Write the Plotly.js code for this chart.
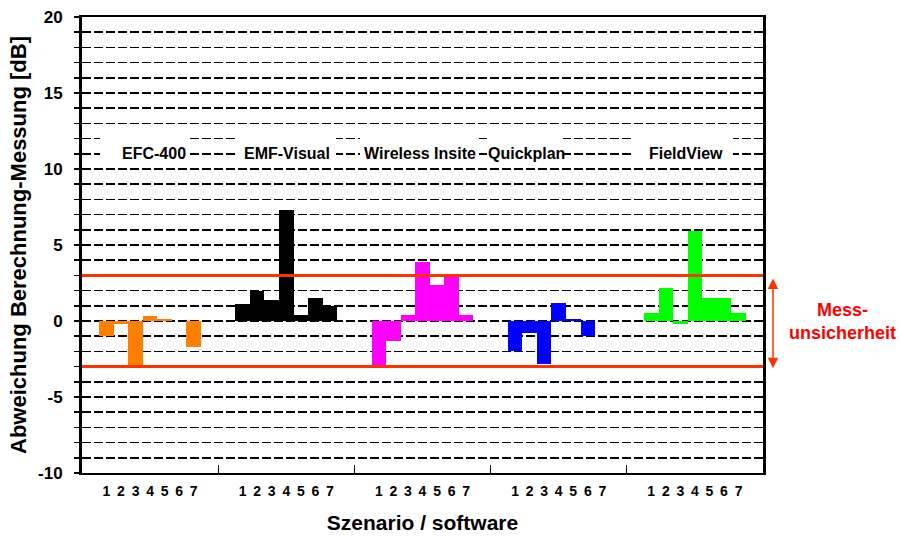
<!DOCTYPE html>
<html>
<head>
<meta charset="utf-8">
<script src="https://cdn.plot.ly/plotly-3.0.1.min.js"></script>
<style>html,body{margin:0;padding:0;background:#fff;}</style>
</head>
<body>
<div id="chart" style="width:900px;height:538px;"></div>
<script>
// ---- data ----
const groups = ['EFC-400', 'EMF-Visual', 'Wireless Insite', 'Quickplan', 'FieldView'];
const scenarios = ['1', '2', '3', '4', '5', '6', '7'];
const efc400 = [-1.0, -0.2, -3.0, 0.3, 0.1, 0.0, -1.7];
const emfVisual = [1.1, 2.0, 1.4, 7.3, 0.4, 1.5, 1.0];
const wirelessInsite = [-2.9, -1.3, 0.4, 3.9, 2.4, 2.9, 0.4];
const quickplan = [-2.0, -0.8, -2.8, 1.2, 0.1, -1.0, 0.0];
const fieldView = [0.5, 2.2, -0.2, 5.9, 1.5, 1.5, 0.5];
const uncertainty = 3;   // ± dB
const yTickVals = [-10, -5, 0, 5, 10, 15, 20];
const yTickText = ['-10', '-5', '0', '5', '10', '15', '20'];
const groupColors = ['#ff8000', '#000000', '#ff00ff', '#0000ff', '#00ff00'];

// ---- layout helpers ----
const seriesValues = [efc400, emfVisual, wirelessInsite, quickplan, fieldView];
const G = 9.36;                        // group width in bar units
const FONT = 'Liberation Sans, Arial, Helvetica, sans-serif';
const pos = (g, s) => g * G + G / 2 + (s - 3);

const traces = seriesValues.map((vals, g) => ({
  type: 'bar',
  x: scenarios.map((_, s) => pos(g, s)),
  y: vals,
  width: 1,
  marker: {color: groupColors[g], line: {width: 0}},
  name: groups[g],
  hoverinfo: 'y',
  showlegend: false,
  xaxis: 'x', yaxis: 'y'
}));

// dummy trace for the secondary x axis (group boundary ticks)
traces.push({type: 'scatter', x: [0], y: [null], xaxis: 'x2', yaxis: 'y', showlegend: false, hoverinfo: 'skip'});

const tickvals = [], ticktext = [];
groups.forEach((_, g) => scenarios.forEach((lab, s) => { tickvals.push(pos(g, s)); ticktext.push(lab); }));
const boundaries = [1, 2, 3, 4].map(k => k * G);

const gridStyle = {gridcolor: '#000', gridwidth: 1.6, griddash: '9px,3px'};

// label boxes (white background hiding gridlines)
const labelX = [154, 287, 420, 526, 686];                 // px centres of labels
const boxes = [[100, 190], [236, 336], [360, 479], [488, 563], [632, 733]];
const L = 82, R = 763;
const px2paper = p => (p - L) / (R - L);

const shapes = [];
boxes.forEach(b => shapes.push({
  type: 'rect', xref: 'paper', yref: 'y', x0: px2paper(b[0]), x1: px2paper(b[1]),
  y0: 10.55, y1: 12.45, fillcolor: '#fff', line: {width: 0}, layer: 'above'
}));
[uncertainty, -uncertainty].forEach(v => shapes.push({
  type: 'line', xref: 'paper', yref: 'y', x0: 0, x1: 1, y0: v, y1: v,
  line: {color: '#ff3300', width: 3}, layer: 'above'
}));

const annotations = groups.map((name, g) => ({
  xref: 'paper', yref: 'y', x: px2paper(labelX[g]), y: 11,
  text: name, showarrow: false,
  font: {family: FONT, size: 16, color: '#000', weight: 700},
  xanchor: 'center', yanchor: 'middle'
}));
annotations.push({
  xref: 'paper', yref: 'y', x: px2paper(773), y: uncertainty - 0.2,
  axref: 'pixel', ayref: 'y', ax: 0, ay: -uncertainty - 0.2,
  text: '', showarrow: true, arrowside: 'end+start', arrowhead: 2,
  arrowsize: 1.4, arrowwidth: 1.5, arrowcolor: '#ff3300'
});
annotations.push({
  xref: 'paper', yref: 'y', x: px2paper(842), y: 0,
  text: 'Mess-<br>unsicherheit', showarrow: false,
  font: {family: FONT, size: 18, color: '#ff0000', weight: 700},
  xanchor: 'center', yanchor: 'middle', align: 'center'
});

const layout = {
  width: 900, height: 538,
  margin: {l: 82, r: 137, t: 17, b: 65},
  paper_bgcolor: '#fff', plot_bgcolor: '#fff',
  bargap: 0, barmode: 'overlay',
  showlegend: false,
  font: {family: FONT, color: '#000'},
  xaxis: {
    range: [0, 5 * G], tickmode: 'array', tickvals: tickvals, ticktext: ticktext,
    ticks: '', showgrid: false, zeroline: false,
    showline: true, linecolor: '#000', linewidth: 2, mirror: true,
    tickfont: {family: FONT, size: 14, weight: 700},
    ticklabelstandoff: 4,
    title: {text: 'Szenario / software', font: {family: FONT, size: 21, weight: 700}, standoff: 18}
  },
  xaxis2: {
    overlaying: 'x', anchor: 'y', side: 'bottom', range: [0, 5 * G],
    tickmode: 'array', tickvals: boundaries, ticks: 'inside', ticklen: 8, tickwidth: 1.2, tickcolor: '#000',
    showticklabels: false, showgrid: false, zeroline: false, showline: false
  },
  yaxis: Object.assign({
    range: [-10, 20], tickmode: 'array', tickvals: yTickVals, ticktext: yTickText,
    ticks: 'outside', ticklen: 5, tickwidth: 1.5, tickcolor: '#000',
    showgrid: true, zeroline: false,
    showline: true, linecolor: '#000', linewidth: 3, mirror: true,
    tickfont: {family: FONT, size: 17, weight: 700},
    ticklabelstandoff: 8,
    minor: Object.assign({dtick: 1, ticks: 'outside', ticklen: 5, tickwidth: 1.5, tickcolor: '#000', showgrid: true}, gridStyle),
    title: {text: 'Abweichung Berechnung-Messung [dB]', font: {family: FONT, size: 22, weight: 700}, standoff: 6}
  }, gridStyle),
  shapes: shapes,
  annotations: annotations
};

Plotly.newPlot('chart', traces, layout, {displayModeBar: false, staticPlot: true});
</script>
</body>
</html>
